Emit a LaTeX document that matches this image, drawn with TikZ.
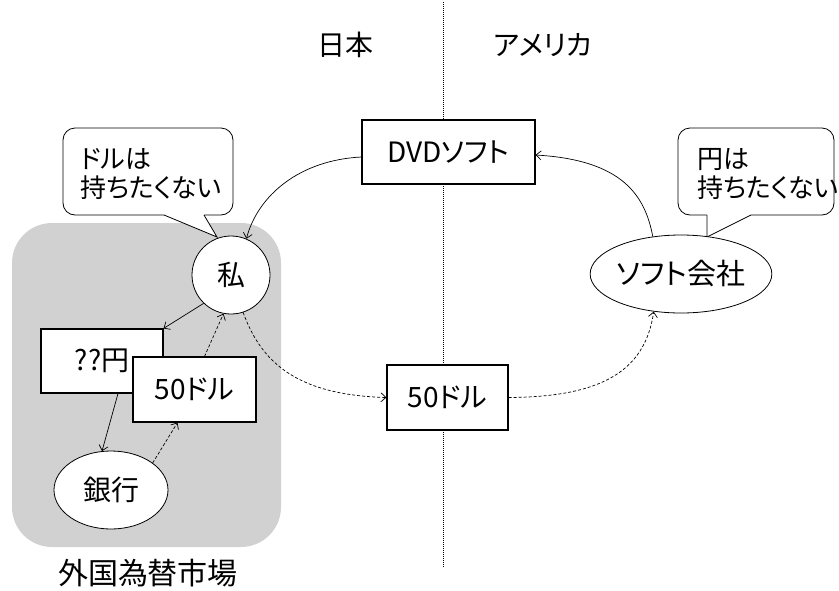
\documentclass[tikz,border=0pt]{standalone}
\usepackage{fontspec}
\setmainfont{Noto Sans CJK JP}[RawFeature=+palt]
\usetikzlibrary{arrows.meta,shapes.geometric}
\begin{document}
\begin{tikzpicture}[x=1pt,y=-1pt,
  every node/.style={font=\fontsize{28}{32}\selectfont, inner sep=0pt},
  box/.style={draw, line width=1.1pt, fill=white, minimum height=64pt},
  roundnode/.style={draw, line width=0.8pt, fill=white, ellipse},
  bubble/.style={draw, line width=0.8pt, fill=white, rounded corners=12pt},
  conn/.style={line width=0.7pt, -{Straight Barb[length=5pt,width=9pt]}},
  dconn/.style={conn, dash pattern=on 3pt off 2pt},
  bubtext/.style={align=left, anchor=west, font=\fontsize{26}{29}\selectfont},
]
\useasboundingbox (0,0) rectangle (839,590);
% market area
\fill[black!18, rounded corners=40pt] (12,223) rectangle (281,547);
% border line
\coordinate (ltop) at (443,2);
\coordinate (lbot) at (443,568);
\draw[line width=0.8pt, dash pattern=on 1pt off 1pt] (ltop) -- (lbot);
% headings
\node (jp) at (345,45) {日本};
\node (us) at (543,45) {アメリカ};
\node[font=\fontsize{30}{34}\selectfont] (mkt) at (148,573) {外国為替市場};
% bubbles
\node[bubble, minimum width=170pt, minimum height=87pt] (b1) at (148,171.5) {};
\fill[white] (164,213) -- (164,215) -- (217,237) -- (204,215) -- (204,213) -- cycle;
\coordinate (t1a) at (164,215);
\coordinate (t1tip) at (217,237);
\coordinate (t1b) at (204,215);
\draw[line width=0.8pt] (t1a) -- (t1tip) -- (t1b);
\node[bubtext] (b1t) at (80,174) {ドルは\\持ちたくない};

\node[bubble, minimum width=156pt, minimum height=87pt] (b2) at (756,171.5) {};
\fill[white] (707,213) -- (707,215) -- (707,237) -- (751,215) -- (751,213) -- cycle;
\coordinate (t2a) at (707,215);
\coordinate (t2tip) at (707,237);
\coordinate (t2b) at (751,215);
\draw[line width=0.8pt] (t2a) -- (t2tip) -- (t2b);
\node[bubtext] (b2t) at (697,174) {円は\\持ちたくない};

% nodes
\node[box, minimum width=173pt] (dvd) at (448.5,152) {DVDソフト};
\node[roundnode, minimum size=78pt] (me) at (231,275) {私};
\node[roundnode, minimum width=165pt, minimum height=78pt, font=\fontsize{29}{32}\selectfont] (soft) at (681,274) {ソフト会社};
\node[box, minimum width=122pt] (yen) at (102,361) {??円};
\node[box, minimum width=123pt, minimum height=65pt] (dla) at (194.5,389.5) {50ドル};
\node[box, minimum width=121pt, minimum height=65pt] (dlb) at (447.5,397.5) {50ドル};
\node[roundnode, minimum width=114pt, minimum height=78pt] (bank) at (111,490) {銀行};

% connectors
\draw[conn] ([yshift=-5pt]dvd.west) .. controls (300,160) and (258,195) .. (me.67);
\draw[conn] (soft.127) .. controls (645,195) and (622,160) .. ([yshift=-3pt]dvd.east);
\draw[conn] (me.226) -- (yen.north east);
\draw[conn] ([xshift=16pt]yen.south) -- (bank.103);
\draw[dconn] (bank.33) -- ([xshift=-17pt]dla.south);
\draw[dconn] ([xshift=10pt]dla.north) -- (me.259);
\draw[dconn] (me.288) .. controls (262,365) and (300,395) .. (dlb.west);
\draw[dconn] (dlb.east) .. controls (600,397) and (645,372) .. (soft.234);
\end{tikzpicture}
\end{document}
